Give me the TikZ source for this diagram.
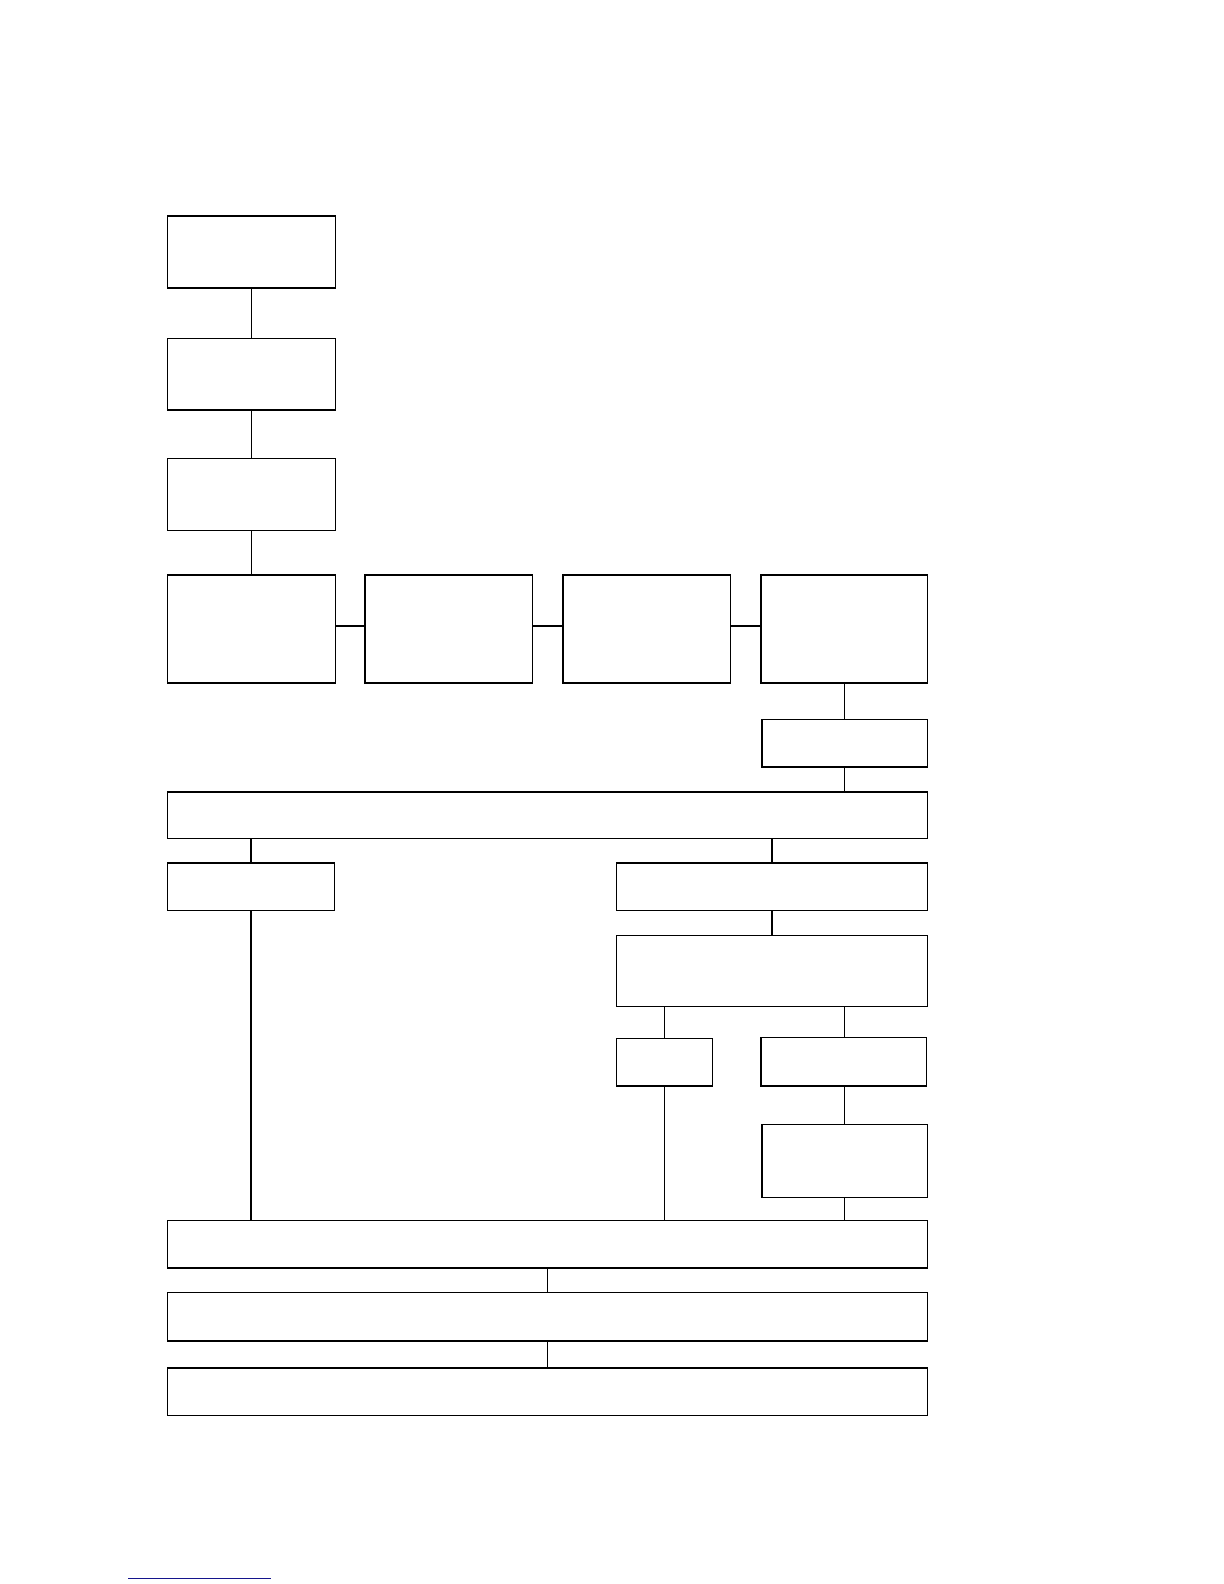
\documentclass[tikz,border=0pt]{standalone}
\begin{document}
\begin{tikzpicture}[x=1.0104bp,y=-1.0104bp,
  box/.style={draw=black,line width=1.5bp,fill=white,inner sep=0pt,outer sep=0pt},
  link/.style={draw=black,line width=1.3bp},
  thick link/.style={draw=black,line width=2bp}]
\useasboundingbox[fill=white] (0,0) rectangle (1211.4,1567.7);
% top column
\node[box,minimum width=167.7bp,minimum height=71.7bp] (b1) at (249,249.5) {};
\node[box,minimum width=167.7bp,minimum height=71.7bp] (b2) at (249,370.5) {};
\node[box,minimum width=167.7bp,minimum height=71.7bp] (b3) at (249,489.5) {};
% row of four
\node[box,minimum width=167.7bp,minimum height=108.1bp] (r1) at (249,622.5) {};
\node[box,minimum width=167.7bp,minimum height=108.1bp] (r2) at (444,622.5) {};
\node[box,minimum width=167.7bp,minimum height=108.1bp] (r3) at (640,622.5) {};
\node[box,minimum width=166.7bp,minimum height=108.1bp] (r4) at (835.5,622.5) {};
\node[box,minimum width=165.7bp,minimum height=47.5bp] (b5) at (836,735.5) {};
% wide and branches
\node[box,minimum width=759.8bp,minimum height=46.5bp] (w1) at (542,807) {};
\node[box,minimum width=166.7bp,minimum height=47.5bp] (l1) at (248.5,877.5) {};
\node[box,minimum width=311.2bp,minimum height=47.5bp] (ra) at (764,877.5) {};
\node[box,minimum width=311.2bp,minimum height=70.7bp] (rb) at (764,961) {};
\node[box,minimum width=96bp,minimum height=47.5bp] (rc) at (657.5,1051.5) {};
\node[box,minimum width=165.7bp,minimum height=48.5bp] (rd) at (835,1051) {};
\node[box,minimum width=165.7bp,minimum height=72.7bp] (re) at (836,1149) {};
% bottom wide boxes
\node[box,minimum width=759.8bp,minimum height=47.5bp] (w2) at (542,1231.5) {};
\node[box,minimum width=759.8bp,minimum height=48.5bp] (w3) at (542,1303) {};
\node[box,minimum width=759.8bp,minimum height=47.5bp] (w4) at (542,1377.5) {};
% junction points on the lower edge of rb
\coordinate (rbr) at (rb.south -| re.north);
\coordinate (rdn) at (rd.north -| re.north);
% connectors
\draw[link] (b1.south) -- (b2.north);
\draw[link] (b2.south) -- (b3.north);
\draw[link] (b3.south) -- (r1.north);
\draw[thick link] ([yshift=2.5bp]r1.east) -- ([yshift=2.5bp]r2.west);
\draw[thick link] ([yshift=2.5bp]r2.east) -- ([yshift=2.5bp]r3.west);
\draw[thick link] ([yshift=2.5bp]r3.east) -- ([yshift=2.5bp]r4.west);
\draw[link] (r4.south -| b5.north) -- (b5.north);
\draw[link] (b5.south) -- (b5.south |- w1.north);
\draw[link] (w1.south -| l1.north) -- (l1.north);
\draw[thick link] (w1.south -| ra.north) -- (ra.north);
\draw[thick link] (ra.south) -- (rb.north);
\draw[link] (rb.south -| rc.north) -- (rc.north);
\draw[link] (rbr) -- (rdn);
\draw[link] (rd.south -| re.north) -- (re.north);
\draw[link] (l1.south) -- (l1.south |- w2.north);
\draw[link] (rc.south) -- (rc.south |- w2.north);
\draw[link] (re.south) -- (re.south |- w2.north);
\draw[link] (w2.south) -- (w3.north);
\draw[link] (w3.south) -- (w4.north);
% blue underline at foot of page
\coordinate (ul1) at (127,1562);
\coordinate (ul2) at (268,1562);
\draw[line width=1.5bp,color={rgb,255:red,20;green,20;blue,140}] (ul1) -- (ul2);
\end{tikzpicture}
\end{document}
